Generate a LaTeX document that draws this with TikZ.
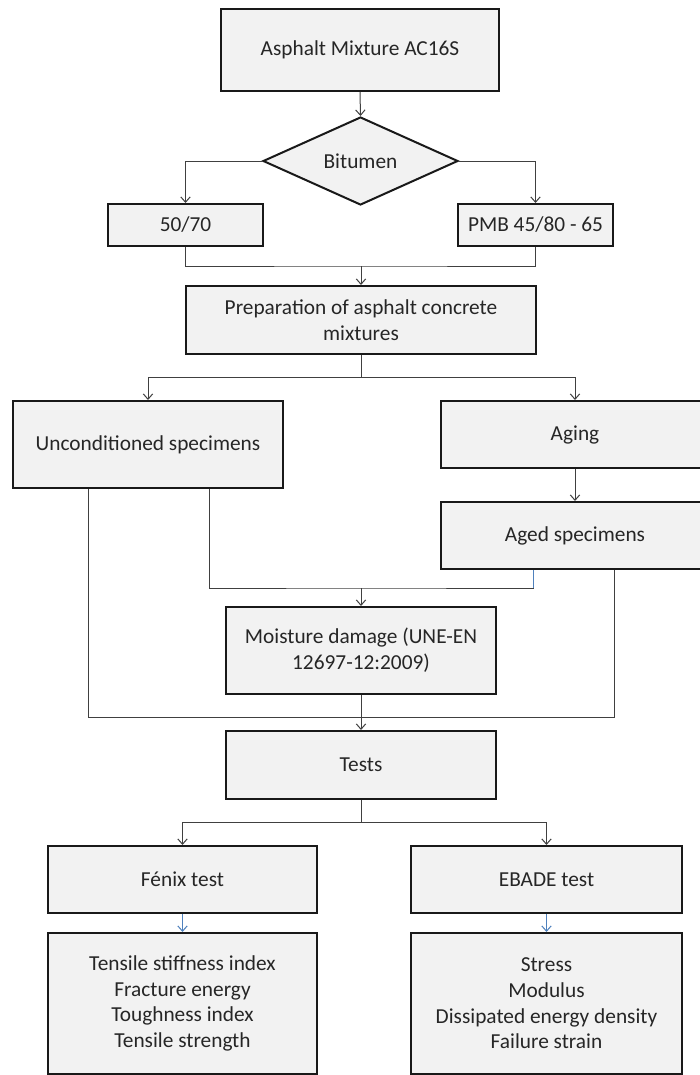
\documentclass[tikz,border=0pt]{standalone}
\usepackage{fontspec}
\setmainfont{Carlito}
\usetikzlibrary{shapes.geometric,arrows.meta}
\definecolor{boxfill}{HTML}{F2F2F2}
\definecolor{lineclr}{HTML}{404040}
\definecolor{blueclr}{HTML}{4F81BD}
\tikzset{
  box/.style={draw=black!90, line width=1.5pt, fill=boxfill, rectangle, inner sep=0pt, align=center,
    font=\fontsize{16}{19.3}\selectfont, text=black!85},
  dia/.style={draw=black!90, line width=1.5pt, fill=boxfill, diamond, inner sep=0pt, aspect=2.2,
    font=\fontsize{16}{19.3}\selectfont, text=black!85},
  conn/.style={draw=lineclr, line width=0.75pt},
  arr/.style={conn, -{Straight Barb[length=4pt,width=7pt]}},
  barr/.style={draw=blueclr, line width=0.75pt, -{Straight Barb[length=4pt,width=7pt]}},
}
\begin{document}
\begin{tikzpicture}[x=0.75pt,y=-0.75pt]
\useasboundingbox (0,0) rectangle (700,1075);
\clip (0,0) rectangle (700,1075);
\fill[white] (0,0) rectangle (700,1075);

% nodes
\node[box, minimum width=208.5pt, minimum height=61.5pt] (top) at (360,50) {Asphalt Mixture AC16S};
\node[dia, minimum width=146.25pt, minimum height=66pt] (bit) at (360.5,161) {Bitumen};
\node[box, minimum width=116.25pt, minimum height=31.5pt] (b1) at (185.5,225) {50/70};
\node[box, minimum width=116.25pt, minimum height=31.5pt] (b2) at (535.5,225) {PMB 45/80 - 65};
\node[box, minimum width=262.5pt, minimum height=51pt] (prep) at (361,320) {Preparation of asphalt concrete\\mixtures};
\node[box, minimum width=202.5pt, minimum height=65.25pt] (uncond) at (148,444.5) {Unconditioned specimens};
\node[box, minimum width=201pt, minimum height=50.25pt] (aging) at (575,434.5) {Aging};
\node[box, minimum width=201pt, minimum height=50.25pt] (aged) at (575,535.5) {Aged specimens};
\node[box, minimum width=202.5pt, minimum height=65.25pt] (moist) at (361,650.5) {Moisture damage (UNE-EN\\12697-12:2009)};
\node[box, minimum width=202.5pt, minimum height=51pt] (tests) at (361,765) {Tests};
\node[box, minimum width=201.75pt, minimum height=50.25pt] (fenix) at (182.5,879.5) {Fénix test};
\node[box, minimum width=203.25pt, minimum height=50.25pt] (ebade) at (546.5,879.5) {EBADE test};
\node[box, minimum width=201.75pt, minimum height=105.75pt] (r1) at (182.5,1003.5) {Tensile stiffness index\\Fracture energy\\Toughness index\\Tensile strength};
\node[box, minimum width=203.25pt, minimum height=105.75pt] (r2) at (546.5,1003.5) {Stress\\Modulus\\Dissipated energy density\\Failure strain};

% junction coordinates
\coordinate (j1) at (361,266);
\coordinate (j2) at (361,377);
\coordinate (j3) at (361,588);
\coordinate (j4) at (361,717);
\coordinate (j5) at (361,822);
\coordinate (u1) at ([xshift=-45pt]uncond.south);
\coordinate (u2) at ([xshift=45.75pt]uncond.south);
\coordinate (a1) at ([xshift=-31.5pt]aged.south);
\coordinate (a2) at ([xshift=29.25pt]aged.south);

% connectors
\draw[arr] (top.south) -- (bit.north);
\draw[arr] (bit.west) -| (b1.north);
\draw[arr] (bit.east) -| (b2.north);
\draw[conn] (b1.south) |- (j1) -| (b2.south);
\draw[arr] (j1) -- (prep.north);
\draw[conn] (prep.south) -- (j2);
\draw[arr] (j2) -| (uncond.north);
\draw[arr] (j2) -| (aging.north);
\draw[arr] (aging.south) -- (aged.north);
\draw[conn] (u2) |- (j3) -| ([yshift=-0.2pt]a1 |- j3);
\draw[draw=blueclr, line width=0.75pt] (a1) -- (a1 |- j3);
\draw[arr] (j3) -- (moist.north);
\draw[conn] (u1) |- (j4) -| (a2);
\draw[arr] (moist.south) -- (tests.north);
\draw[conn] (tests.south) -- (j5);
\draw[arr] (j5) -| (fenix.north);
\draw[arr] (j5) -| (ebade.north);
\draw[barr] (fenix.south) -- (r1.north);
\draw[barr] (ebade.south) -- (r2.north);
\end{tikzpicture}
\end{document}
